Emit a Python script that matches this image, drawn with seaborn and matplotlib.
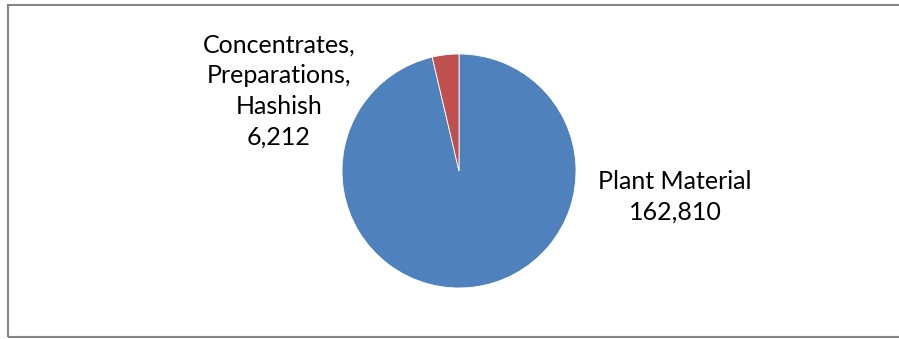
import matplotlib
matplotlib.use("Agg")
import matplotlib.pyplot as plt
import seaborn as sns
from matplotlib.patches import Rectangle

sns.set_theme(style="white")
plt.rcParams['font.family'] = ['Lato', 'DejaVu Sans']

categories = ["Plant Material", "Concentrates,\nPreparations,\nHashish"]
values = [162810, 6212]
value_labels = ["162,810", "6,212"]
colors = ["#4F81BD", "#C0504D"]

W, H = 899, 339
fig = plt.figure(figsize=(W / 100, H / 100), dpi=100)
ax = fig.add_axes([0, 0, 1, 1])
ax.set_xlim(0, W)
ax.set_ylim(0, H)
ax.set_aspect("equal")
ax.axis("off")

ax.pie(values, colors=colors, startangle=90, counterclock=False,
       center=(459, H - 171), radius=117,
       wedgeprops=dict(edgecolor="white", linewidth=0.6))
ax.set_xlim(0, W)
ax.set_ylim(0, H)

# label positions (pixels from top-left)
label_pos = [(675, 197), (279, 91)]
for cat, vl, (x, y) in zip(categories, value_labels, label_pos):
    ax.text(x, H - y, f"{cat}\n{vl}", ha="center", va="center",
            fontsize=18, color="black", linespacing=1.4)

ax.add_patch(Rectangle((7.5, H - 336.5), 900, 332, fill=False,
                       edgecolor="#868686", linewidth=1.5, clip_on=False))

fig.savefig("out.png", dpi=100)
